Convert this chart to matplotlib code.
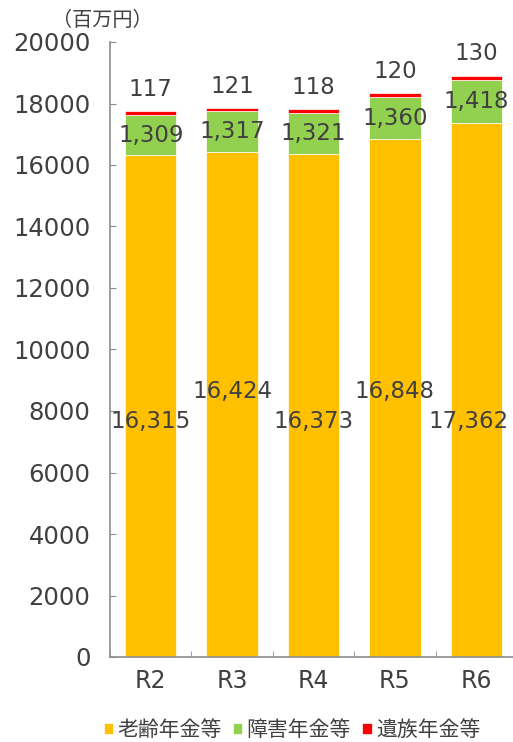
import numpy as np
from matplotlib import pyplot as plt

plt.rcParams['font.family'] = ['DejaVu Sans', 'Noto Sans CJK JP']

years = ['R2', 'R3', 'R4', 'R5', 'R6']
old_age = [16315, 16424, 16373, 16848, 17362]
disability = [1309, 1317, 1321, 1360, 1418]
survivor = [117, 121, 118, 120, 130]

colors = ['#FFC000', '#92D050', '#FF0000']
names = ['老齢年金等', '障害年金等', '遺族年金等']
text_color = '#404040'

fig = plt.figure(figsize=(5.13, 7.42), dpi=100)
ax = fig.add_axes([110 / 513, 85 / 742, 407 / 513, 615 / 742])

x = np.arange(len(years))
w = 0.63
old_age = np.array(old_age)
disability = np.array(disability)
survivor = np.array(survivor)

ax.bar(x, old_age, w, color=colors[0], edgecolor='white', linewidth=0.5, label=names[0])
ax.bar(x, disability, w, bottom=old_age, color=colors[1], edgecolor='white', linewidth=0.5, label=names[1])
ax.bar(x, survivor, w, bottom=old_age + disability, color=colors[2], edgecolor='white', linewidth=0.5, label=names[2])

# labels: old-age labels are staggered like the original, last one nudged to stay inside
for i in range(len(years)):
    y_old = 7650 if i % 2 == 0 else 8620
    dx = -8 if i == len(years) - 1 else 0
    ax.annotate(f'{old_age[i]:,}', (x[i], y_old), xytext=(dx, 0), textcoords='offset pixels',
                ha='center', va='center', fontsize=16.5, color=text_color)
    ax.text(x[i], old_age[i] + disability[i] / 2, f'{disability[i]:,}', ha='center', va='center',
            fontsize=16.5, color=text_color)
    ax.text(x[i], old_age[i] + disability[i] + survivor[i] + 700, f'{survivor[i]:,}', ha='center',
            va='center', fontsize=16.5, color=text_color)

ax.set_xlim(-0.5, len(years) - 0.5)
ax.set_ylim(0, 20000)
ax.set_yticks(np.arange(0, 20001, 2000))
ax.set_xticks(np.arange(-0.5, len(years), 1), minor=True)
ax.set_xticks(x)
ax.set_xticklabels(years)

for s in ['top', 'right']:
    ax.spines[s].set_visible(False)
for s in ['left', 'bottom']:
    ax.spines[s].set_color('#8c8c8c')
    ax.spines[s].set_linewidth(1.2)

ax.tick_params(axis='y', direction='in', length=4, color='#8c8c8c', labelsize=17.5, labelcolor=text_color, pad=14)
ax.tick_params(axis='x', which='major', length=0, labelsize=17, labelcolor=text_color, pad=9)
ax.tick_params(axis='x', which='minor', direction='in', length=4, color='#8c8c8c')

fig.text(102 / 513, 1 - 20 / 742, '（百万円）', ha='center', va='center', fontsize=14.5, color=text_color,
         family='Noto Sans CJK JP')

fig.legend(loc='center', bbox_to_anchor=(292 / 513, 1 - 730 / 742), ncol=3, frameon=False,
           handlelength=0.45, handleheight=0.45, handletextpad=0.2, columnspacing=0.55,
           labelcolor=text_color, prop={'family': 'Noto Sans CJK JP', 'size': 15})

plt.savefig('out.png', dpi=100)
